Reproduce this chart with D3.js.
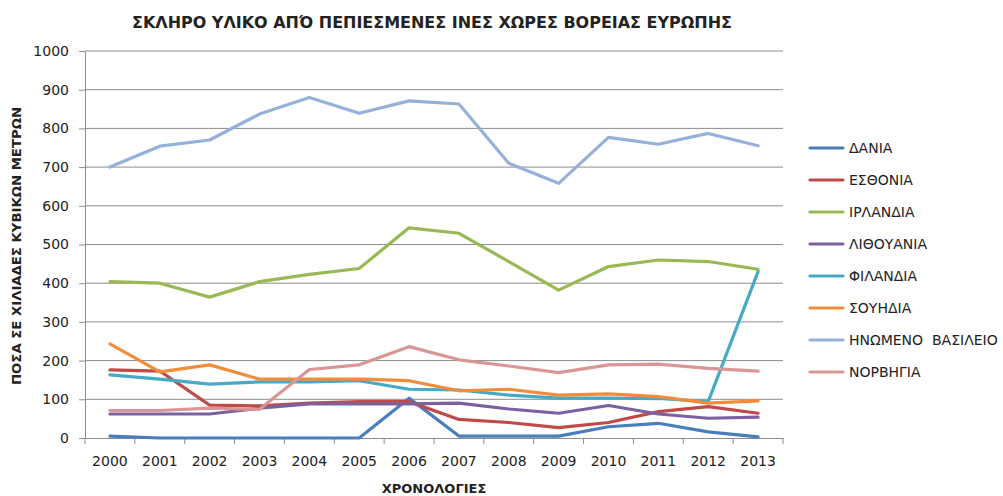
<!DOCTYPE html>
<html>
<head>
<meta charset="utf-8">
<script src="https://cdn.jsdelivr.net/npm/d3@7"></script>
<style>
  body { margin: 0; background: #fff; }
  text { font-family: "DejaVu Sans", sans-serif; fill: #222; }
</style>
</head>
<body>
<svg id="chart" width="1003" height="496"></svg>
<script>
const years = d3.range(2000, 2014);
const countries = ["ΔΑΝΙΑ", "ΕΣΘΟΝΙΑ", "ΙΡΛΑΝΔΙΑ", "ΛΙΘΟΥΑΝΙΑ", "ΦΙΛΑΝΔΙΑ", "ΣΟΥΗΔΙΑ", "ΗΝΩΜΕΝΟ  ΒΑΣΙΛΕΙΟ", "ΝΟΡΒΗΓΙΑ"];
const colors = ["#4A7EBB", "#BE4B48", "#98B954", "#7D60A0", "#46AAC5", "#F08C3A", "#95B1D9", "#D99694"];

const denmark   = [5, 0, 0, 0, 0, 0, 103, 5, 5, 5, 29, 38, 16, 3];
const estonia   = [176, 173, 85, 83, 90, 94, 94, 48, 40, 27, 40, 68, 81, 64];
const ireland   = [404, 400, 364, 404, 423, 438, 543, 529, 456, 382, 443, 460, 456, 436];
const lithuania = [62, 62, 62, 77, 88, 88, 88, 90, 75, 64, 84, 62, 51, 54];
const finland   = [163, 152, 139, 145, 145, 148, 126, 124, 111, 103, 103, 102, 94, 430];
const sweden    = [243, 171, 189, 152, 152, 152, 148, 122, 126, 111, 114, 107, 90, 96];
const uk        = [700, 754, 770, 837, 880, 839, 871, 863, 710, 658, 777, 759, 787, 755];
const norway    = [71, 71, 77, 74, 177, 189, 236, 202, 186, 169, 189, 191, 180, 173];

const series = [denmark, estonia, ireland, lithuania, finland, sweden, uk, norway];
const yTicks = d3.range(0, 1001, 100);

const svg = d3.select("#chart");
const plotL = 85, plotR = 783, plotT = 51, plotB = 438;

const x = d3.scaleBand().domain(years).range([plotL, plotR]);
const y = d3.scaleLinear().domain([0, 1000]).range([plotB, plotT]);

// title
svg.append("text")
  .attr("x", 432).attr("y", 28)
  .attr("text-anchor", "middle")
  .attr("font-family", "Liberation Sans, sans-serif")
  .attr("font-weight", "bold").attr("font-size", 16)
  .attr("textLength", 600).attr("lengthAdjust", "spacingAndGlyphs")
  .text("ΣΚΛΗΡΟ ΥΛΙΚΟ ΑΠΌ ΠΕΠΙΕΣΜΕΝΕΣ ΙΝΕΣ ΧΩΡΕΣ ΒΟΡΕΙΑΣ ΕΥΡΩΠΗΣ");

// gridlines
svg.append("g")
  .selectAll("line")
  .data(yTicks.filter(d => d > 0))
  .join("line")
  .attr("x1", plotL).attr("x2", plotR)
  .attr("y1", d => y(d)).attr("y2", d => y(d))
  .attr("stroke", "#8c8c8c").attr("stroke-width", 1);

// y axis
const yAxis = svg.append("g")
  .attr("transform", `translate(${plotL},0)`)
  .call(d3.axisLeft(y).tickValues(yTicks).tickFormat(d3.format("d"))
    .tickSize(6).tickPadding(10).tickSizeOuter(0));
yAxis.select(".domain").attr("stroke", "#8c8c8c");
yAxis.selectAll(".tick line").attr("stroke", "#8c8c8c");
yAxis.selectAll(".tick text").attr("font-size", 14).attr("font-family", "DejaVu Sans, sans-serif").attr("fill", "#222");

// x axis
const xAxis = svg.append("g")
  .attr("transform", `translate(0,${plotB})`)
  .call(d3.axisBottom(x).tickSize(0).tickPadding(18));
xAxis.select(".domain").attr("stroke", "#8c8c8c");
xAxis.selectAll(".tick text").attr("font-size", 14).attr("font-family", "DejaVu Sans, sans-serif").attr("fill", "#222");
xAxis.append("g")
  .selectAll("line")
  .data(d3.range(years.length + 1))
  .join("line")
  .attr("x1", i => plotL + i * x.bandwidth()).attr("x2", i => plotL + i * x.bandwidth())
  .attr("y1", 0).attr("y2", 6)
  .attr("stroke", "#8c8c8c");

// axis titles
svg.append("text")
  .attr("x", 434).attr("y", 493)
  .attr("text-anchor", "middle")
  .attr("font-family", "Liberation Sans, sans-serif")
  .attr("font-weight", "bold").attr("font-size", 13)
  .text("ΧΡΟΝΟΛΟΓΙΕΣ");

svg.append("text")
  .attr("transform", "translate(21,246) rotate(-90)")
  .attr("text-anchor", "middle")
  .attr("font-family", "Liberation Sans, sans-serif")
  .attr("font-weight", "bold").attr("font-size", 13)
  .attr("textLength", 278).attr("lengthAdjust", "spacingAndGlyphs")
  .text("ΠΟΣΑ ΣΕ ΧΙΛΙΑΔΕΣ ΚΥΒΙΚΩΝ  ΜΕΤΡΩΝ");

// lines
const line = d3.line()
  .x((d, i) => x(years[i]) + x.bandwidth() / 2)
  .y(d => y(d));

svg.append("g")
  .selectAll("path")
  .data(series)
  .join("path")
  .attr("d", line)
  .attr("fill", "none")
  .attr("stroke", (d, i) => colors[i])
  .attr("stroke-width", 3.2)
  .attr("stroke-linejoin", "round")
  .attr("stroke-linecap", "round");

// legend
const legend = svg.append("g")
  .selectAll("g")
  .data(countries)
  .join("g")
  .attr("transform", (d, i) => `translate(810,${148 + i * 32})`);
legend.append("line")
  .attr("x1", 0).attr("x2", 33)
  .attr("stroke", (d, i) => colors[i])
  .attr("stroke-width", 3.2)
  .attr("stroke-linecap", "round");
legend.append("text")
  .attr("x", 39).attr("y", 5)
  .attr("font-size", 14)
  .style("white-space", "pre")
  .text(d => d);
</script>
</body>
</html>
